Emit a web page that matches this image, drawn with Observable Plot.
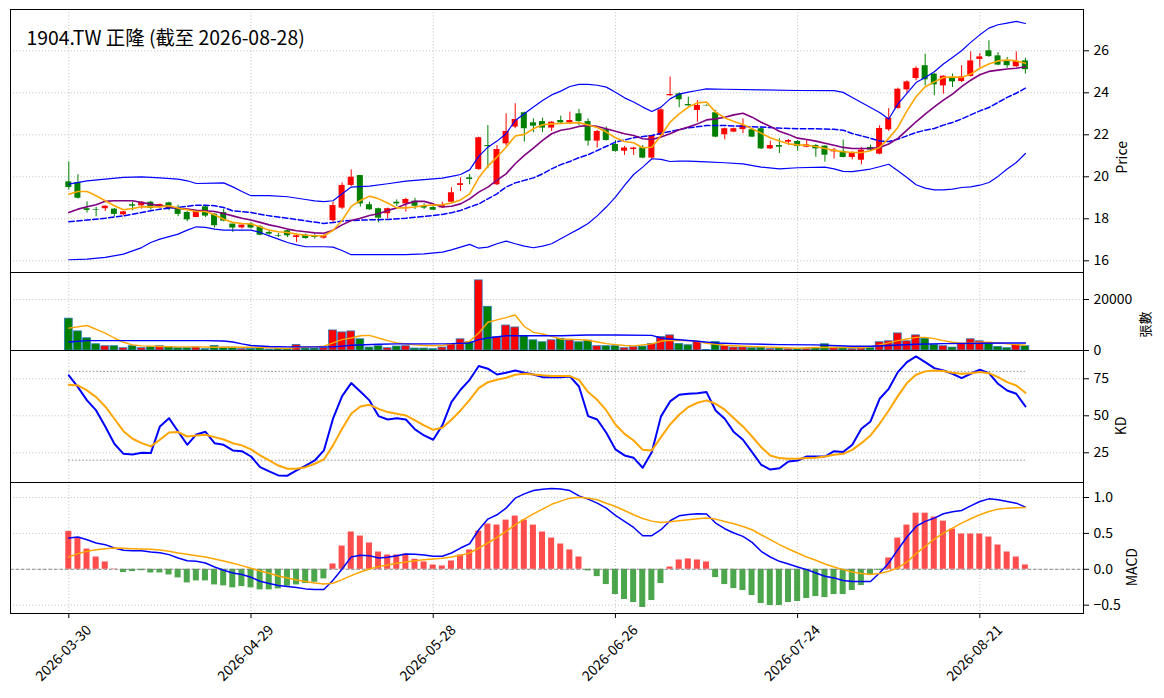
<!DOCTYPE html>
<html><head><meta charset="utf-8">
<script src="https://cdn.jsdelivr.net/npm/d3@7"></script>
<script src="https://cdn.jsdelivr.net/npm/@observablehq/plot@0.6"></script>
<style>
body{margin:0;background:#fff;}
#wrap{position:relative;width:1164px;height:698px;overflow:hidden;background:#fff;}
#wrap svg{position:absolute;left:0;}
</style></head><body><div id="wrap"></div>
<script>
const title = "1904.TW 正隆 (截至 2026-08-28)";
const tickIdx = [0, 20, 40, 60, 80, 100];
const tickLabels = ["2026-03-30","2026-04-29","2026-05-28","2026-06-26","2026-07-24","2026-08-21"];

const open = [19.76,19.73,18.48,18.43,18.48,18.46,18.19,18.67,18.62,18.79,
18.54,18.76,18.54,18.30,18.06,18.57,18.22,18.30,17.75,17.57,
17.75,17.62,17.35,17.19,17.43,17.11,17.22,17.19,17.08,17.91,
18.51,19.59,20.06,18.67,18.48,18.24,18.79,18.71,18.84,18.59,
18.54,18.52,18.79,19.59,19.95,20.35,21.49,19.62,21.57,22.37,
23.05,22.57,22.63,22.32,22.68,22.57,23.00,22.63,21.70,22.24,
21.54,21.22,21.30,21.38,20.89,21.97,23.86,23.95,23.44,23.16,
23.40,23.05,22.00,22.13,22.25,22.24,22.29,21.33,21.49,21.65,
21.68,21.41,21.49,21.46,21.19,21.21,20.92,20.79,21.40,21.08,
22.24,23.25,24.14,24.68,25.29,24.89,24.33,24.73,24.54,24.78,
25.59,26.00,25.76,25.52,25.24,25.52];
const high = [20.71,20.10,18.81,18.54,18.62,18.49,18.35,18.78,18.81,18.83,
18.71,18.79,18.65,18.35,18.38,18.62,18.25,18.46,17.75,17.70,
17.83,17.67,17.40,17.30,17.46,17.22,17.27,17.24,17.24,18.79,
19.71,20.33,20.06,18.79,18.51,18.51,18.90,18.98,18.98,18.71,
18.59,18.79,19.48,19.95,20.11,21.89,22.44,21.49,23.00,23.48,
23.08,22.76,22.79,22.63,22.89,23.08,23.21,22.76,22.21,22.37,
21.73,21.44,21.41,21.49,21.97,23.24,24.75,24.00,23.79,23.63,
23.42,23.16,22.32,22.32,22.76,22.29,22.37,21.70,21.81,21.78,
21.73,21.73,21.54,21.49,21.35,21.75,21.19,21.40,21.51,22.43,
23.25,24.22,24.57,25.24,25.84,24.92,24.81,24.89,25.29,25.95,
25.87,26.48,25.92,25.68,25.95,25.65];
const low = [19.37,18.94,18.27,18.10,18.35,18.10,18.14,18.38,18.46,18.41,
18.49,18.38,18.10,17.86,18.06,18.06,17.56,17.86,17.35,17.51,
17.51,17.19,17.22,17.11,17.11,16.87,17.03,17.03,17.03,17.76,
18.44,19.54,18.56,18.40,17.81,18.00,18.59,18.32,18.44,18.44,
18.40,18.51,18.76,19.30,19.62,20.30,20.38,19.59,21.46,22.29,
21.65,22.10,22.10,22.16,22.48,22.48,22.44,21.46,21.37,21.70,
21.17,21.02,21.02,20.86,20.86,21.92,23.83,23.29,23.37,22.60,
23.36,21.86,21.76,22.10,22.05,21.86,21.30,21.30,21.10,21.49,
21.22,21.38,20.93,20.70,20.85,20.90,20.81,20.57,21.24,21.05,
22.16,23.22,23.97,24.57,24.33,23.86,23.94,24.25,24.49,24.76,
25.21,25.68,25.29,25.17,25.21,24.89];
const close = [19.49,18.98,18.40,18.40,18.60,18.21,18.33,18.60,18.79,18.49,
18.68,18.46,18.21,17.95,18.38,18.13,17.67,17.89,17.56,17.70,
17.56,17.22,17.27,17.16,17.19,17.19,17.06,17.11,17.19,18.63,
19.59,19.98,18.71,18.43,18.03,18.48,18.71,18.92,18.60,18.51,
18.41,18.63,19.24,19.67,19.87,21.86,21.44,21.30,22.16,22.73,
22.29,22.41,22.32,22.60,22.57,22.68,22.63,21.70,22.16,21.73,
21.21,21.37,21.37,20.89,21.97,23.19,23.92,23.67,23.38,23.40,
23.38,21.89,22.29,22.29,22.44,21.89,21.33,21.49,21.41,21.73,
21.44,21.52,21.33,21.03,21.27,20.92,21.13,21.27,21.27,22.30,
22.79,24.17,24.52,25.16,24.62,24.38,24.79,24.52,24.76,25.52,
25.71,25.73,25.32,25.29,25.49,25.10];
const volume = [12500,7500,4800,2450,1680,1680,900,1680,900,1290,
1680,1420,900,900,1160,520,1800,1160,1160,520,
650,900,390,650,650,2190,770,770,900,7870,
7100,7480,4390,1160,1680,900,1550,1680,770,770,
520,1160,2450,4390,3230,27500,17150,5160,9800,9030,
5550,4000,3230,4000,4600,3870,3230,3870,1680,1680,
1680,900,1290,1550,2580,5290,5930,2580,2060,3350,
200,3350,1680,1160,1160,900,1160,520,900,520,
650,650,900,2450,1160,1160,520,770,900,3230,
3610,6710,3610,5930,4640,2190,1680,1160,2580,4390,
3610,2710,1420,900,2190,1680];

const ma5 = [19.17,19.30,19.30,19.10,18.86,18.62,18.43,18.49,18.57,18.57,
18.57,18.62,18.51,18.43,18.35,18.35,18.19,17.98,17.83,17.78,
17.75,17.62,17.46,17.38,17.35,17.27,17.22,17.19,17.19,17.44,
17.92,18.59,18.87,19.08,18.95,18.75,18.52,18.52,18.56,18.63,
18.65,18.67,18.75,18.90,19.19,19.95,20.51,20.94,21.41,21.94,
22.02,22.29,22.48,22.52,22.54,22.56,22.58,22.47,22.35,22.13,
21.86,21.68,21.62,21.38,21.41,21.97,22.60,23.00,23.32,23.52,
23.56,23.08,22.81,22.63,22.49,22.29,22.08,21.86,21.70,21.57,
21.52,21.50,21.44,21.35,21.26,21.19,21.16,21.16,21.24,21.40,
21.83,22.35,23.14,23.81,24.29,24.52,24.73,24.76,24.73,24.89,
25.17,25.37,25.52,25.56,25.52,25.41];
const ma10 = [18.30,18.46,18.57,18.67,18.83,18.86,18.86,18.86,18.78,18.70,
18.62,18.57,18.49,18.46,18.41,18.38,18.35,18.25,18.14,18.03,
17.94,17.83,17.71,17.62,17.51,17.43,17.38,17.33,17.31,17.46,
17.71,17.92,18.03,18.16,18.24,18.40,18.52,18.71,18.83,18.83,
18.71,18.56,18.60,18.71,18.95,19.27,19.51,19.84,20.14,20.62,
21.02,21.37,21.73,22.05,22.22,22.29,22.40,22.44,22.40,22.29,
22.17,22.05,21.97,21.81,21.78,21.89,22.05,22.24,22.37,22.52,
22.71,22.76,22.84,22.95,23.03,22.84,22.60,22.40,22.17,22.02,
21.84,21.78,21.70,21.60,21.50,21.40,21.35,21.35,21.35,21.40,
21.56,21.83,22.22,22.62,22.98,23.33,23.65,23.94,24.29,24.60,
24.86,25.02,25.08,25.13,25.17,25.24];
const bbUpper = [[0,19.65],[2,19.81],[4,19.89],[6,19.97],[8,20.00],[10,19.95],[12,19.89],[13,19.81],[14,19.68],[16,19.70],[17,19.71],[18,19.52],[19,19.30],[20,19.10],[22,19.10],[24,19.05],[26,18.92],[27,18.85],[28,18.82],[29,18.86],[30,19.19],[31,19.51],[33,19.56],[35,19.67],[37,19.79],[39,19.87],[41,19.94],[42,20.02],[43,20.11],[44,20.33],[45,20.97],[46,21.41],[47,21.70],[48,22.05],[49,22.68],[50,23.00],[51,23.32],[52,23.63],[53,23.90],[54,24.08],[55,24.30],[56,24.40],[57,24.40],[58,24.36],[59,24.27],[60,24.03],[61,23.76],[62,23.56],[63,23.32],[64,23.11],[65,23.32],[66,23.71],[67,23.94],[68,24.03],[69,24.11],[70,24.19],[72,24.17],[76,24.14],[80,24.11],[84,24.10],[85,24.02],[86,23.78],[87,23.54],[88,23.30],[89,23.06],[90,22.75],[91,23.46],[92,23.97],[93,24.49],[94,24.73],[95,25.00],[96,25.37],[97,25.68],[98,26.00],[99,26.40],[100,26.76],[101,27.08],[102,27.24],[103,27.32],[104,27.40],[105,27.30]];
const bbMid = [[0,17.86],[2,17.94],[4,18.03],[6,18.14],[8,18.30],[10,18.46],[12,18.54],[14,18.65],[15,18.65],[16,18.62],[17,18.54],[18,18.38],[20,18.30],[22,18.14],[24,18.03],[26,17.90],[28,17.78],[29,17.82],[30,17.89],[31,17.92],[33,17.95],[35,17.97],[37,18.03],[39,18.11],[41,18.21],[42,18.29],[43,18.40],[44,18.56],[45,18.71],[46,18.95],[47,19.19],[48,19.51],[49,19.71],[50,19.83],[51,19.95],[52,20.14],[53,20.38],[54,20.58],[55,20.73],[56,20.91],[57,21.05],[58,21.25],[60,21.65],[62,21.86],[64,21.97],[66,22.16],[68,22.33],[70,22.44],[72,22.44],[74,22.40],[76,22.37],[78,22.32],[80,22.29],[82,22.29],[84,22.26],[85,22.22],[86,22.06],[87,21.95],[88,21.83],[89,21.71],[90,21.68],[91,21.79],[92,21.95],[93,22.11],[94,22.22],[95,22.30],[96,22.46],[97,22.59],[98,22.75],[99,22.95],[100,23.14],[101,23.30],[102,23.54],[103,23.78],[104,23.98],[105,24.22]];
const bbLower = [[0,16.05],[2,16.08],[4,16.16],[6,16.32],[8,16.63],[9,16.87],[10,17.03],[12,17.27],[13,17.46],[14,17.62],[15,17.59],[16,17.51],[17,17.46],[20,17.46],[21,17.35],[22,17.19],[23,17.03],[24,16.87],[25,16.76],[26,16.67],[28,16.67],[29,16.65],[30,16.49],[31,16.29],[33,16.29],[37,16.29],[39,16.33],[41,16.41],[42,16.52],[43,16.65],[44,16.78],[45,16.60],[46,16.65],[47,16.81],[48,16.94],[49,16.81],[50,16.70],[51,16.62],[52,16.70],[53,16.81],[54,17.05],[55,17.29],[56,17.52],[57,17.78],[58,18.14],[59,18.56],[60,19.03],[61,19.59],[62,20.11],[63,20.46],[64,20.86],[65,20.83],[66,20.73],[67,20.75],[68,20.75],[70,20.71],[72,20.67],[74,20.62],[76,20.46],[78,20.38],[80,20.43],[83,20.46],[84,20.38],[85,20.26],[86,20.25],[88,20.37],[89,20.48],[90,20.60],[91,20.29],[92,19.97],[93,19.62],[94,19.46],[95,19.38],[96,19.38],[97,19.41],[98,19.49],[99,19.52],[100,19.60],[101,19.73],[102,20.02],[103,20.37],[104,20.68],[105,21.11]];

const volMA5 = [[0,8770],[2,9800],[4,6840],[5,4900],[6,3230],[7,2190],[8,1810],[10,1550],[12,1420],[14,1420],[16,1290],[18,1290],[20,1290],[22,1030],[24,770],[25,1160],[27,1420],[28,1680],[29,2970],[30,4260],[31,4900],[32,5800],[33,5930],[34,4900],[35,3870],[36,2970],[37,2580],[38,2190],[39,1940],[41,1940],[42,2580],[43,2710],[44,3610],[45,6840],[46,11090],[47,12000],[48,12900],[49,13930],[50,9420],[51,7100],[52,6450],[53,5550],[54,4520],[56,4260],[57,4000],[58,3350],[59,2710],[60,2320],[61,1940],[62,1810],[63,2190],[64,2580],[65,3610],[66,4000],[67,3870],[68,3870],[69,3610],[70,2840],[71,2450],[72,2060],[74,1680],[76,1420],[78,1160],[80,900],[82,1160],[84,1160],[86,1160],[87,1030],[88,1420],[89,2190],[90,2970],[91,3870],[92,4520],[93,5160],[94,5160],[95,4640],[96,3870],[97,3230],[98,2840],[99,2970],[100,3230],[101,3230],[102,2970],[103,2580],[104,2320],[105,2060]];
const volMA20 = [[0,3350],[2,3870],[6,3870],[10,3870],[15,3870],[17,3740],[18,3350],[19,2580],[20,1940],[22,1550],[24,1420],[29,1420],[31,2060],[34,2450],[36,2580],[39,2580],[42,2710],[44,2970],[45,4260],[46,4900],[48,5800],[54,5800],[57,6060],[60,6060],[64,5930],[65,4900],[66,4520],[69,3610],[71,2970],[74,2580],[78,2320],[82,2190],[86,1680],[88,1680],[90,1940],[93,2450],[96,2710],[100,2840],[103,2970],[105,2970]];

const kLine = [77.3,69.4,60.4,53.6,42.8,31.1,24.3,23.9,25.0,24.8,
42.8,48.4,39.4,30.4,37.4,39.2,31.5,30.4,26.6,26.1,
22.5,15.3,12.4,9.7,9.5,13.1,16.4,19.8,26.6,48.0,
63.3,72.1,66.4,60.4,49.8,47.5,48.4,47.5,40.8,36.7,
33.8,43.5,59.2,67.6,74.3,83.6,81.8,77.9,79.1,80.6,
79.1,77.9,76.1,76.1,76.1,76.6,69.8,49.8,47.5,38.5,
27.3,23.2,21.6,14.9,25.5,49.6,59.7,64.2,64.9,65.3,
66.0,53.6,48.0,39.0,33.8,25.5,16.9,13.7,14.6,19.1,
19.8,22.5,22.5,22.5,26.1,25.5,30.4,41.2,46.2,61.5,
68.2,79.5,86.3,90.1,86.3,82.2,80.6,78.4,75.5,78.4,
81.1,78.8,71.6,67.1,64.9,56.3];
const dLine = [70.9,70.5,67.1,62.6,56.3,48.0,39.6,34.5,31.5,29.3,
33.8,38.7,39.0,36.0,36.7,37.2,35.6,34.0,31.5,30.0,
27.3,23.2,19.8,16.4,14.2,14.2,15.3,17.6,20.5,30.0,
41.2,51.4,56.3,57.4,54.7,52.5,51.4,50.2,46.9,43.5,
40.5,41.9,47.3,53.6,60.8,68.7,72.7,74.3,75.7,77.7,
78.4,77.9,77.3,76.9,76.9,76.8,74.3,66.0,60.8,53.6,
44.1,37.8,33.3,27.0,26.6,35.6,44.1,50.7,55.9,58.8,
60.4,58.1,54.1,48.4,42.8,36.0,28.8,23.2,21.4,21.0,
21.0,21.4,21.6,22.5,23.7,24.3,27.0,31.5,36.7,44.6,
53.6,63.3,72.1,77.7,80.0,80.6,80.2,79.1,78.4,78.8,
79.5,78.8,76.1,72.7,70.5,65.5];

const macdHist = [0.528,0.435,0.282,0.171,0.102,0.005,-0.046,-0.032,-0.019,-0.051,
-0.051,-0.079,-0.120,-0.190,-0.162,-0.162,-0.218,-0.231,-0.259,-0.241,
-0.259,-0.287,-0.287,-0.273,-0.236,-0.218,-0.199,-0.181,-0.134,0.074,
0.324,0.519,0.463,0.366,0.241,0.199,0.199,0.213,0.139,0.102,
0.060,0.046,0.116,0.199,0.269,0.532,0.630,0.616,0.685,0.741,
0.685,0.616,0.519,0.435,0.352,0.269,0.171,-0.023,-0.102,-0.213,
-0.352,-0.421,-0.463,-0.532,-0.435,-0.199,0.032,0.130,0.144,0.130,
0.102,-0.116,-0.213,-0.269,-0.296,-0.366,-0.477,-0.505,-0.505,-0.463,
-0.449,-0.407,-0.380,-0.394,-0.352,-0.352,-0.296,-0.227,-0.074,-0.014,
0.157,0.435,0.616,0.782,0.782,0.727,0.671,0.560,0.491,0.491,
0.491,0.449,0.338,0.241,0.171,0.060];
const macdLine = [0.435,0.449,0.412,0.366,0.343,0.296,0.264,0.259,0.259,0.241,
0.231,0.204,0.157,0.120,0.111,0.088,0.032,-0.014,-0.051,-0.074,
-0.111,-0.167,-0.199,-0.227,-0.241,-0.255,-0.273,-0.282,-0.282,-0.153,
0.005,0.171,0.194,0.190,0.157,0.167,0.190,0.213,0.208,0.199,
0.181,0.181,0.227,0.296,0.356,0.551,0.699,0.759,0.852,0.991,
1.051,1.097,1.116,1.125,1.120,1.097,1.023,0.977,0.921,0.852,
0.750,0.667,0.583,0.468,0.468,0.551,0.676,0.745,0.764,0.773,
0.769,0.644,0.565,0.505,0.458,0.375,0.250,0.171,0.111,0.074,
0.032,-0.005,-0.051,-0.097,-0.120,-0.157,-0.171,-0.171,-0.171,-0.051,
0.088,0.273,0.449,0.597,0.667,0.713,0.773,0.801,0.819,0.884,
0.944,0.981,0.968,0.944,0.921,0.866];
const signalLine = [0.171,0.218,0.250,0.273,0.287,0.296,0.292,0.287,0.282,0.278,
0.269,0.250,0.227,0.208,0.190,0.171,0.144,0.116,0.083,0.051,
0.014,-0.023,-0.056,-0.093,-0.120,-0.148,-0.171,-0.190,-0.204,-0.194,
-0.144,-0.088,-0.037,0.005,0.037,0.060,0.083,0.102,0.120,0.134,
0.144,0.153,0.171,0.194,0.227,0.296,0.366,0.444,0.528,0.620,
0.699,0.773,0.838,0.905,0.950,0.991,1.005,0.991,0.968,0.921,
0.875,0.819,0.759,0.708,0.671,0.653,0.662,0.676,0.690,0.704,
0.713,0.699,0.667,0.634,0.597,0.551,0.481,0.412,0.343,0.282,
0.227,0.171,0.125,0.074,0.032,-0.005,-0.037,-0.060,-0.074,-0.060,
-0.028,0.019,0.102,0.218,0.319,0.421,0.505,0.574,0.644,0.704,
0.759,0.806,0.838,0.852,0.856,0.861];

// ---------- layout / styles ----------
const W = 1164, ML = 10, MR = 81, XD = [-6.40, 111.38];
const FONT = "'Noto Sans CJK TC','Noto Sans',sans-serif";
const RED = "#ff0000", GREEN = "#008000", BLUE = "#0000ff", ORANGE = "#ffa500", PURPLE = "#800080";
const GRID = {stroke: "#b0b0b0", strokeOpacity: 1, strokeWidth: 0.8, strokeDasharray: "1,2.2"};
const wrap = document.getElementById("wrap");

const candles = open.map((o, i) => ({i, o, h: high[i], l: low[i], c: close[i], v: volume[i]}));
const ups = candles.filter(d => d.c >= d.o);
const downs = candles.filter(d => d.c < d.o);
const lineIdx = (arr) => arr.map((v, i) => [i, v]);

function panel({top, height, mt = 8, mb = 8, yDomain, yTicks, yFormat, ylabel, ylabelDx, ylabelSize = 14, marks, extra = []}) {
  const svg = Plot.plot({
    width: W, height, marginLeft: ML, marginRight: MR, marginTop: mt, marginBottom: mb,
    style: {fontFamily: FONT, fontSize: "14px", background: "transparent", overflow: "visible", color: "black"},
    x: {domain: XD, axis: null},
    y: {domain: yDomain, axis: null},
    marks: [
      Plot.gridX({ticks: tickIdx, ...GRID}),
      Plot.gridY({ticks: yTicks, ...GRID}),
      ...marks,
      Plot.frame({stroke: "black", strokeWidth: 1}),
      Plot.axisY({ticks: yTicks, anchor: "right", tickSize: 5, tickPadding: 5, tickFormat: yFormat, label: null, fontSize: 14}),
      Plot.text([ylabel], {frameAnchor: "right", dx: ylabelDx, rotate: -90, text: d => d, fontSize: ylabelSize}),
      ...extra
    ]
  });
  svg.style.top = top + "px";
  wrap.append(svg);
}

// ---------- price panel ----------
panel({
  top: 0, height: 280, mt: 9, mb: 8,
  yDomain: [15.443, 27.967], yTicks: [16, 18, 20, 22, 24, 26], yFormat: d3.format("d"),
  ylabel: "Price", ylabelDx: 39,
  marks: [
    Plot.ruleX(ups, {x: "i", y1: "l", y2: "h", stroke: RED, strokeWidth: 1}),
    Plot.ruleX(downs, {x: "i", y1: "l", y2: "h", stroke: GREEN, strokeWidth: 1}),
    Plot.rect(ups, {x1: d => d.i - 0.33, x2: d => d.i + 0.33, y1: "o", y2: "c", fill: RED}),
    Plot.rect(downs, {x1: d => d.i - 0.33, x2: d => d.i + 0.33, y1: "o", y2: "c", fill: GREEN}),
    Plot.line(bbUpper, {x: d => d[0], y: d => d[1], stroke: BLUE, strokeWidth: 1.2}),
    Plot.line(bbLower, {x: d => d[0], y: d => d[1], stroke: BLUE, strokeWidth: 1.2}),
    Plot.line(bbMid, {x: d => d[0], y: d => d[1], stroke: BLUE, strokeWidth: 1.5, strokeDasharray: "5.5,2.5"}),
    Plot.line(lineIdx(ma10), {x: d => d[0], y: d => d[1], stroke: PURPLE, strokeWidth: 1.6}),
    Plot.line(lineIdx(ma5), {x: d => d[0], y: d => d[1], stroke: ORANGE, strokeWidth: 1.6})
  ],
  extra: [
    Plot.text([title], {frameAnchor: "top-left", dx: 16, dy: 22, textAnchor: "start", text: d => d, fontSize: 19.4, fontWeight: "normal"})
  ]
});

// ---------- volume panel ----------
panel({
  top: 264, height: 94, mt: 8, mb: 8,
  yDomain: [0, 30590], yTicks: [0, 20000], yFormat: d3.format("d"),
  ylabel: "張數", ylabelDx: 62, ylabelSize: 13,
  marks: [
    Plot.rect(ups, {x1: d => d.i - 0.43, x2: d => d.i + 0.43, y1: 0, y2: "v", fill: RED, stroke: "#2b7bba", strokeWidth: 0.8}),
    Plot.rect(downs, {x1: d => d.i - 0.43, x2: d => d.i + 0.43, y1: 0, y2: "v", fill: GREEN, stroke: "#2b7bba", strokeWidth: 0.8}),
    Plot.line(volMA5, {x: d => d[0], y: d => d[1], stroke: ORANGE, strokeWidth: 1.4}),
    Plot.line(volMA20, {x: d => d[0], y: d => d[1], stroke: BLUE, strokeWidth: 1.4})
  ]
});

// ---------- KD panel ----------
panel({
  top: 342, height: 148, mt: 8, mb: 8,
  yDomain: [4.93, 94.1], yTicks: [25, 50, 75], yFormat: d3.format("d"),
  ylabel: "KD", ylabelDx: 38,
  marks: [
    Plot.ruleY([80, 20], {x1: 0, x2: 105, stroke: "#808080", strokeWidth: 0.9, strokeDasharray: "1.5,2"}),
    Plot.line(lineIdx(kLine), {x: d => d[0], y: d => d[1], stroke: BLUE, strokeWidth: 2}),
    Plot.line(lineIdx(dLine), {x: d => d[0], y: d => d[1], stroke: ORANGE, strokeWidth: 2})
  ]
});

// ---------- MACD panel ----------
const hist = macdHist.map((v, i) => ({i, v}));
panel({
  top: 474, height: 224, mt: 8, mb: 85,
  yDomain: [-0.616, 1.209], yTicks: [-0.5, 0, 0.5, 1.0], yFormat: d3.format(".1f"),
  ylabel: "MACD", ylabelDx: 49,
  marks: [
    Plot.rect(hist.filter(d => d.v >= 0), {x1: d => d.i - 0.33, x2: d => d.i + 0.33, y1: 0, y2: "v", fill: RED, fillOpacity: 0.7}),
    Plot.rect(hist.filter(d => d.v < 0), {x1: d => d.i - 0.33, x2: d => d.i + 0.33, y1: 0, y2: "v", fill: GREEN, fillOpacity: 0.7}),
    Plot.ruleY([0], {stroke: "#808080", strokeWidth: 0.9, strokeDasharray: "3.5,2"}),
    Plot.line(lineIdx(macdLine), {x: d => d[0], y: d => d[1], stroke: BLUE, strokeWidth: 1.5}),
    Plot.line(lineIdx(signalLine), {x: d => d[0], y: d => d[1], stroke: ORANGE, strokeWidth: 1.5})
  ],
  extra: [
    Plot.axisX({ticks: tickIdx, anchor: "bottom", tickSize: 5, tickFormat: () => "", label: null}),
    Plot.text(tickIdx, {x: d => d, frameAnchor: "bottom", dy: 43, dx: -2, rotate: -45, textAnchor: "middle", text: (d, i) => tickLabels[i], fontSize: 14})
  ]
});
</script></body></html>
